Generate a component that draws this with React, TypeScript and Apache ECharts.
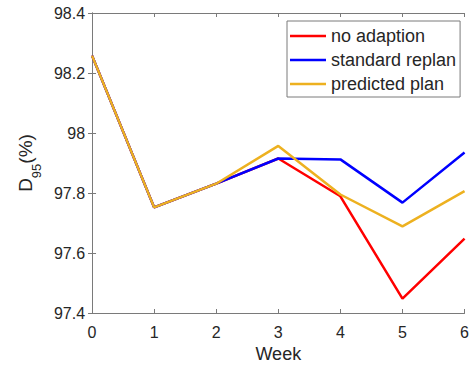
import React, { useEffect, useRef } from 'react';
import * as echarts from 'echarts';

const weeks = [0, 1, 2, 3, 4, 5, 6];
const noAdaption = [98.258, 97.752, 97.831, 97.915, 97.789, 97.448, 97.648];
const standardReplan = [98.258, 97.752, 97.831, 97.915, 97.912, 97.768, 97.935];
const predictedPlan = [98.258, 97.752, 97.831, 97.957, 97.795, 97.689, 97.806];
const seriesNames = ['no adaption', 'standard replan', 'predicted plan'];
const seriesValues = [noAdaption, standardReplan, predictedPlan];
const seriesColors = ['#FF0000', '#0000FF', '#EDB120'];

const FONT = '"Liberation Sans", Arial, Helvetica, sans-serif';
const TEXT = '#262626';
const AXIS = '#7a7a7a';

export default function App() {
  const ref = useRef<HTMLDivElement>(null);
  useEffect(() => {
    if (!ref.current) return;
    const chart = echarts.init(ref.current, null, { renderer: 'svg' });
    const axisLine = { show: true, lineStyle: { color: AXIS, width: 1 } };
    const tick = { show: true, inside: true, length: 4, lineStyle: { color: AXIS, width: 1 } };
    chart.setOption({
      animation: false,
      backgroundColor: '#ffffff',
      textStyle: { fontFamily: FONT },
      grid: { left: 82, right: 3, top: 13, bottom: 57, containLabel: false },
      legend: {
        orient: 'vertical',
        left: 287,
        top: 21,
        padding: [5, 4, 3, 3],
        itemGap: 4,
        itemWidth: 36,
        itemHeight: 2.5,
        icon: 'rect',
        borderColor: AXIS,
        borderWidth: 1,
        borderRadius: 0,
        backgroundColor: '#ffffff',
        data: seriesNames,
        textStyle: { fontFamily: FONT, fontSize: 18, color: TEXT, lineHeight: 20 },
      },
      xAxis: [
        {
          type: 'value',
          min: 0,
          max: 6,
          interval: 1,
          name: 'Week',
          nameLocation: 'middle',
          nameGap: 31,
          nameTextStyle: { fontFamily: FONT, fontSize: 18, color: TEXT },
          axisLine,
          axisTick: tick,
          splitLine: { show: false },
          axisLabel: { fontFamily: FONT, fontSize: 16, color: TEXT, margin: 11 },
        },
        {
          type: 'value',
          position: 'top',
          min: 0,
          max: 6,
          interval: 1,
          axisLine,
          axisTick: tick,
          splitLine: { show: false },
          axisLabel: { show: false },
        },
      ],
      yAxis: [
        {
          type: 'value',
          min: 97.4,
          max: 98.4,
          interval: 0.2,
          name: '{d|D}{s|95}{d|(%)}',
          nameLocation: 'middle',
          nameGap: 46,
          nameTextStyle: {
            fontFamily: FONT,
            color: TEXT,
            rich: {
              d: { fontFamily: FONT, fontSize: 19, lineHeight: 22, color: TEXT },
              s: { fontFamily: FONT, fontSize: 13, lineHeight: 13, padding: [22, 0, 0, 0], color: TEXT },
            },
          },
          axisLine,
          axisTick: tick,
          splitLine: { show: false },
          axisLabel: { fontFamily: FONT, fontSize: 16, color: TEXT, margin: 7 },
        },
        {
          type: 'value',
          position: 'right',
          min: 97.4,
          max: 98.4,
          interval: 0.2,
          axisLine,
          axisTick: tick,
          splitLine: { show: false },
          axisLabel: { show: false },
        },
      ],
      series: seriesNames.map((name, i) => ({
        name,
        type: 'line',
        xAxisIndex: 0,
        yAxisIndex: 0,
        symbol: 'none',
        color: seriesColors[i],
        lineStyle: { color: seriesColors[i], width: 2.5 },
        data: weeks.map((w, j) => [w, seriesValues[i][j]]),
        z: 2 + i,
      })),
    });
    return () => chart.dispose();
  }, []);
  return <div ref={ref} style={{ position: 'fixed', left: 0, top: 0, width: 472, height: 370 }} />;
}
